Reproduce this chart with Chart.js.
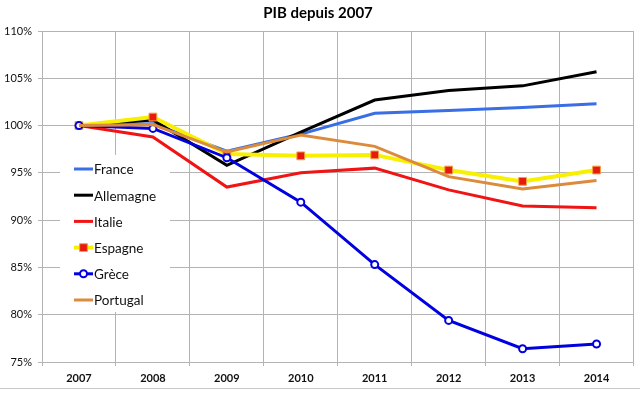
<!DOCTYPE html>
<html>
<head>
<meta charset="utf-8">
<script src="https://cdn.jsdelivr.net/npm/chart.js@4/dist/chart.umd.min.js"></script>
<style>
  html, body { margin: 0; padding: 0; background: #fff; }
  #wrap { width: 640px; height: 396px; position: relative; }
</style>
</head>
<body>
<div id="wrap"><canvas id="c" width="640" height="396"></canvas></div>
<script>
const categories = ['2007', '2008', '2009', '2010', '2011', '2012', '2013', '2014'];
const seriesNames = ['France', 'Allemagne', 'Italie', 'Espagne', 'Grèce', 'Portugal'];
const france    = [100, 100.2, 97.3, 99.1, 101.3, 101.6, 101.9, 102.3];
const allemagne = [100, 100.6, 95.8, 99.3, 102.7, 103.7, 104.2, 105.7];
const italie    = [100, 98.8, 93.5, 95.0, 95.5, 93.2, 91.5, 91.3];
const espagne   = [100, 100.9, 97.0, 96.8, 96.9, 95.3, 94.1, 95.3];
const grece     = [100, 99.7, 96.6, 91.9, 85.3, 79.4, 76.4, 76.9];
const portugal  = [100, 100.1, 97.2, 99.0, 97.8, 94.6, 93.3, 94.2];
const yTicks    = [75, 80, 85, 90, 95, 100, 105, 110];

const FONT = 'Lato, "Open Sans", "Liberation Sans", sans-serif';
const GRID = '#b4b4b4';

const innerLegend = {
  id: 'innerLegend',
  beforeDatasetsDraw(chart) {
    const ctx = chart.ctx;
    ctx.save();
    ctx.fillStyle = '#fff';
    ctx.fillRect(60, 155, 110, 157);
    chart.data.datasets.forEach((ds, i) => {
      const y = 169 + i * 26.2;
      ctx.strokeStyle = ds.borderColor;
      ctx.lineWidth = ds.borderWidth;
      ctx.beginPath();
      ctx.moveTo(74, y);
      ctx.lineTo(93, y);
      ctx.stroke();
      if (ds.pointRadius > 0) {
        ctx.fillStyle = ds.pointBackgroundColor;
        ctx.strokeStyle = ds.pointBorderColor;
        ctx.lineWidth = ds.pointBorderWidth;
        ctx.beginPath();
        if (ds.pointStyle === 'rect') {
          const s = Math.SQRT1_2 * ds.pointRadius;
          ctx.rect(83.5 - s, y - s, 2 * s, 2 * s);
        } else {
          ctx.arc(83.5, y, ds.pointRadius, 0, Math.PI * 2);
        }
        ctx.fill();
        ctx.stroke();
      }
      ctx.fillStyle = '#111';
      ctx.font = '13.5px ' + FONT;
      ctx.textBaseline = 'middle';
      ctx.textAlign = 'left';
      ctx.fillText(ds.label, 94, y + 1);
    });
    ctx.restore();
  },
  afterDraw(chart) {
    const ctx = chart.ctx;
    ctx.save();
    ctx.strokeStyle = '#c8c8c8';
    ctx.lineWidth = 1;
    ctx.beginPath();
    ctx.moveTo(0, 388.5);
    ctx.lineTo(640, 388.5);
    ctx.stroke();
    ctx.restore();
  }
};

const lineDs = (label, data, color, order, extra) => Object.assign({
  label, data, borderColor: color, backgroundColor: color, borderWidth: 3,
  pointRadius: 0, pointHoverRadius: 0, tension: 0, order
}, extra || {});

new Chart(document.getElementById('c'), {
  type: 'line',
  data: {
    labels: categories,
    datasets: [
      lineDs(seriesNames[0], france, '#3a6ee4', 6),
      lineDs(seriesNames[1], allemagne, '#000000', 5),
      lineDs(seriesNames[2], italie, '#f01414', 4),
      lineDs(seriesNames[3], espagne, '#f8f000', 3, {
        borderWidth: 4, pointRadius: 5.5, pointStyle: 'rect',
        pointBackgroundColor: '#e81a0c', pointBorderColor: '#f0a040', pointBorderWidth: 1
      }),
      lineDs(seriesNames[4], grece, '#0000e0', 2, {
        pointRadius: 3.5, pointStyle: 'circle',
        pointBackgroundColor: '#ffffff', pointBorderColor: '#0000e0', pointBorderWidth: 2
      }),
      lineDs(seriesNames[5], portugal, '#dc8a3c', 1)
    ]
  },
  options: {
    responsive: false,
    animation: false,
    events: [],
    layout: { padding: { top: 0, right: 4, left: 0, bottom: 0 } },
    plugins: {
      legend: { display: false },
      tooltip: { enabled: false },
      title: {
        display: true,
        text: 'PIB depuis 2007',
        color: '#000',
        font: { family: FONT, size: 15, weight: 'bold' },
        padding: { top: 4, bottom: 9 }
      }
    },
    scales: {
      x: {
        type: 'category',
        offset: true,
        grid: { offset: true, color: GRID, tickColor: GRID, tickLength: 4, drawTicks: true },
        border: { color: GRID },
        ticks: { color: '#111', font: { family: FONT, size: 11, weight: 'bold' }, padding: 6, maxRotation: 0 },
        afterFit(scale) { scale.height = 34; }
      },
      y: {
        min: 75, max: 110,
        afterBuildTicks(scale) { scale.ticks = yTicks.map(v => ({ value: v })); },
        grid: { color: GRID, tickColor: GRID, tickLength: 4 },
        border: { color: GRID },
        ticks: {
          color: '#111', font: { family: FONT, size: 11 }, padding: 6,
          callback: v => v + '%'
        },
        afterFit(scale) { scale.width = 42; }
      }
    }
  },
  plugins: [innerLegend]
});
</script>
</body>
</html>
